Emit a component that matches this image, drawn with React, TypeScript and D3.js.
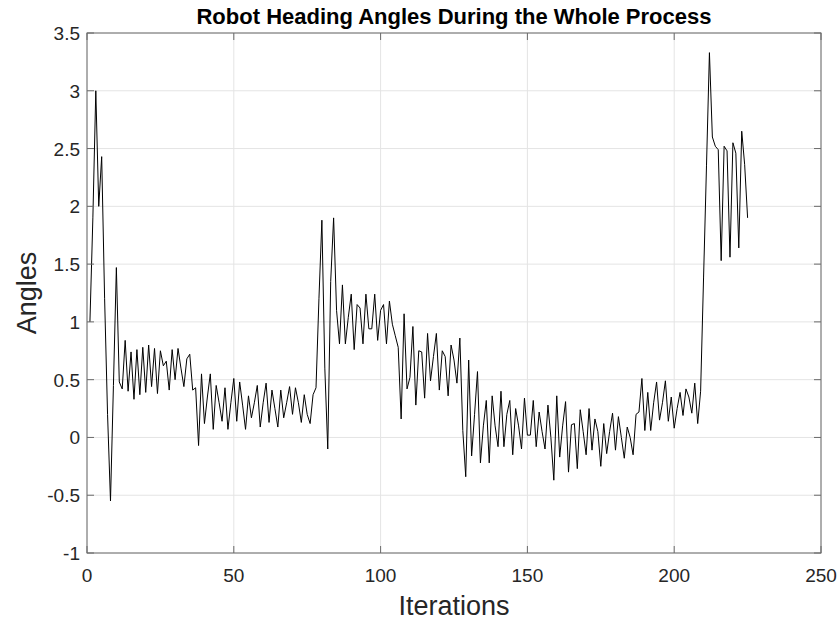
import React from 'react';
import * as d3 from 'd3';

const angles: number[] = [
  1.00, 1.90, 3.00, 2.00, 2.43, 1.20, 0.20, -0.55, 0.45, 1.47,
  0.48, 0.42, 0.84, 0.40, 0.74, 0.33, 0.76, 0.37, 0.78, 0.39,
  0.80, 0.44, 0.77, 0.38, 0.75, 0.62, 0.66, 0.41, 0.76, 0.50,
  0.77, 0.60, 0.44, 0.68, 0.72, 0.41, 0.43, -0.07, 0.55, 0.12,
  0.35, 0.55, 0.07, 0.45, 0.30, 0.14, 0.43, 0.07, 0.30, 0.51,
  0.14, 0.48, 0.28, 0.07, 0.36, 0.17, 0.30, 0.45, 0.09, 0.30,
  0.47, 0.13, 0.41, 0.25, 0.09, 0.41, 0.17, 0.30, 0.44, 0.20,
  0.43, 0.30, 0.13, 0.37, 0.20, 0.12, 0.37, 0.43, 1.20, 1.88,
  0.60, -0.10, 1.35, 1.90, 1.10, 0.81, 1.32, 0.81, 1.04, 1.24,
  0.76, 1.15, 1.12, 0.81, 1.24, 0.94, 0.94, 1.24, 0.84, 1.10,
  1.15, 0.81, 1.18, 0.98, 0.88, 0.78, 0.16, 1.07, 0.42, 0.52,
  0.96, 0.28, 0.75, 0.74, 0.34, 0.90, 0.49, 0.70, 0.90, 0.41,
  0.75, 0.70, 0.36, 0.80, 0.67, 0.47, 0.86, 0.06, -0.34, 0.67,
  -0.16, 0.20, 0.57, -0.22, 0.10, 0.32, -0.22, 0.36, 0.10, -0.08,
  0.40, -0.08, 0.20, 0.32, -0.15, 0.25, 0.10, -0.10, 0.34, 0.02,
  0.02, 0.32, -0.08, 0.22, 0.05, -0.10, 0.28, 0.00, -0.37, 0.36,
  -0.17, 0.10, 0.31, -0.30, 0.11, 0.12, -0.27, 0.24, 0.05, -0.15,
  0.25, -0.11, 0.16, 0.05, -0.25, 0.12, -0.14, 0.05, 0.21, -0.11,
  0.18, 0.00, -0.18, 0.09, 0.00, -0.15, 0.20, 0.22, 0.51, 0.06,
  0.39, 0.06, 0.30, 0.48, 0.15, 0.30, 0.49, 0.14, 0.35, 0.08,
  0.25, 0.39, 0.19, 0.42, 0.35, 0.21, 0.47, 0.12, 0.40, 1.38,
  2.35, 3.33, 2.60, 2.52, 2.49, 1.53, 2.52, 2.48, 1.56, 2.55,
  2.46, 1.64, 2.65, 2.36, 1.90
];

const xTicks: number[] = [0, 50, 100, 150, 200, 250];
const yTicks: number[] = [-1, -0.5, 0, 0.5, 1, 1.5, 2, 2.5, 3, 3.5];
const titleText = 'Robot Heading Angles During the Whole Process';
const xLabelText = 'Iterations';
const yLabelText = 'Angles';

export default function App() {
  const W = 838;
  const H = 621;
  const left = 87, right = 821, top = 33, bottom = 553;
  const x = d3.scaleLinear().domain([0, 250]).range([left, right]);
  const y = d3.scaleLinear().domain([-1, 3.5]).range([bottom, top]);
  const lineGen = d3.line<number>().x((_, i) => x(i + 1)).y((d) => y(d));
  const font = '"Liberation Sans", Arial, Helvetica, sans-serif';
  const axisColor = '#6a6a6a';
  const textColor = '#262626';
  const gridColor = '#e4e4e4';
  const tl = 7;

  return (
    <svg width={W} height={H} style={{ position: 'absolute', left: 0, top: 0, background: '#fff' }}>
      <rect x={0} y={0} width={W} height={H} fill="#fff" />
      {xTicks.map((t) => (
        <line key={'gx' + t} x1={x(t)} x2={x(t)} y1={top} y2={bottom} stroke={gridColor} strokeWidth={1} />
      ))}
      {yTicks.map((t) => (
        <line key={'gy' + t} x1={left} x2={right} y1={y(t)} y2={y(t)} stroke={gridColor} strokeWidth={1} />
      ))}
      <path d={lineGen(angles) || ''} fill="none" stroke="#000" strokeWidth={1} strokeLinejoin="round" />
      <rect x={left} y={top} width={right - left} height={bottom - top} fill="none" stroke={axisColor} strokeWidth={1} />
      {xTicks.map((t) => (
        <g key={'tx' + t}>
          <line x1={x(t)} x2={x(t)} y1={bottom} y2={bottom - tl} stroke={axisColor} />
          <line x1={x(t)} x2={x(t)} y1={top} y2={top + tl} stroke={axisColor} />
          <text x={x(t)} y={bottom + 29} textAnchor="middle" fontFamily={font} fontSize={19} fill={textColor}>
            {t}
          </text>
        </g>
      ))}
      {yTicks.map((t) => (
        <g key={'ty' + t}>
          <line x1={left} x2={left + tl} y1={y(t)} y2={y(t)} stroke={axisColor} />
          <line x1={right} x2={right - tl} y1={y(t)} y2={y(t)} stroke={axisColor} />
          <text x={left - 7} y={y(t) + 7} textAnchor="end" fontFamily={font} fontSize={19} fill={textColor}>
            {t}
          </text>
        </g>
      ))}
      <text x={(left + right) / 2} y={24} textAnchor="middle" fontFamily={font} fontWeight="bold" fontSize={22} fill="#000">
        {titleText}
      </text>
      <text x={(left + right) / 2} y={615} textAnchor="middle" fontFamily={font} fontSize={27} fill={textColor}>
        {xLabelText}
      </text>
      <text
        transform={`translate(36, ${(top + bottom) / 2}) rotate(-90)`}
        textAnchor="middle"
        fontFamily={font}
        fontSize={27}
        fill={textColor}
      >
        {yLabelText}
      </text>
    </svg>
  );
}
